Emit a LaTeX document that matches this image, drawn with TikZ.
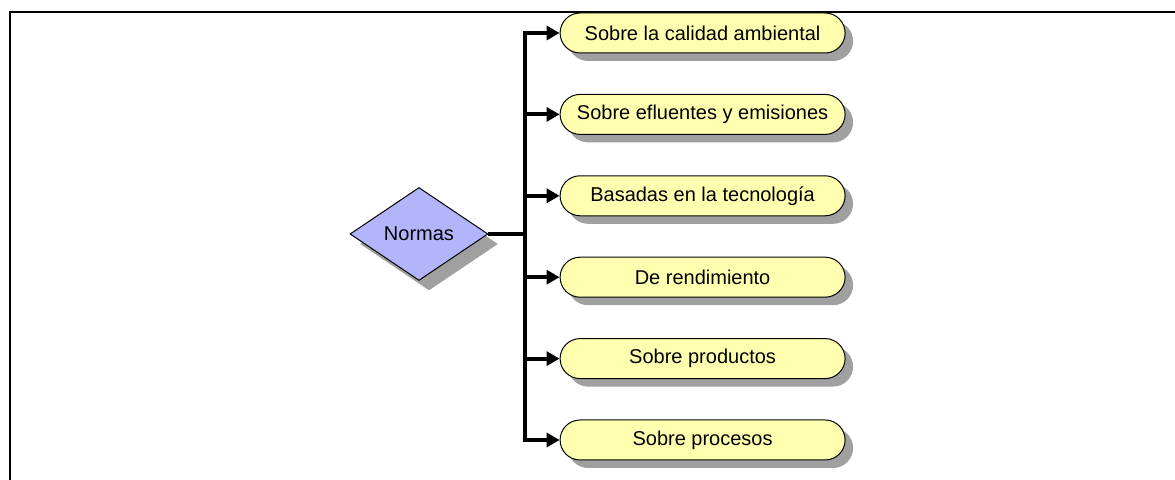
\documentclass[tikz,border=0pt]{standalone}
\usepackage{fontspec}
\setmainfont{Liberation Sans}
\usepackage{xcolor}
\usepackage{tikz}
\usetikzlibrary{arrows.meta, shapes, shadows, positioning}
\definecolor{normasblue}{HTML}{B4B4FA}
\definecolor{boxyellow}{HTML}{FFFFB0}
\definecolor{shadowgray}{HTML}{A0A0A0}
\tikzset{
    diamondnode/.style = {draw, diamond, fill=normasblue, inner sep = 0em, 
      minimum width=6.9em, minimum height=4.65em, node distance=0em, line width=0.05em, 
      drop shadow={shadow xshift=0.5em, shadow yshift=-0.5em, fill=shadowgray, opacity=1}},
    roundnode/.style = {draw, rectangle, rounded corners=1em, fill=boxyellow, inner sep = 0em, 
      minimum width=14.25em, minimum height=2em, node distance=0em, line width=0.05em, 
      drop shadow={shadow xshift=0.4em, shadow yshift=-0.4em, fill=shadowgray, opacity=1}},
    connect/.style = {black, line width=0.2em, -{Triangle[length=0.65em, width=0.7em]}},
    framelines/.style = {black, line width=0.1em}
}

\begin{document}
\begin{tikzpicture}
    \useasboundingbox (-209.5pt,117pt) rectangle (378pt,-123pt);
    \draw [framelines] (-204.5pt,-123pt) |- (378pt,111pt);

    \node [name=normas, diamondnode] {Normas};

    \node [name=calidad, roundnode, right of = normas, xshift=14.18em, yshift=10.05em] {Sobre la calidad ambiental};
    \node [name=efluentes, roundnode, right of = normas, xshift=14.18em, yshift=5.98em] {Sobre efluentes y emisiones};
    \node [name=tecnologia, roundnode, right of = normas, xshift=14.18em, yshift=1.91em] {Basadas en la tecnología};
    \node [name=rendimiento, roundnode, right of = normas, xshift=14.18em, yshift=-2.16em] {De rendimiento};
    \node [name=productos, roundnode, right of = normas, xshift=14.18em, yshift=-6.23em] {Sobre productos};
    \node [name=procesos, roundnode, right of = normas, xshift=14.18em, yshift=-10.3em] {Sobre procesos};

    \coordinate (trunk) at ([xshift=5.3em]normas.center);
    \foreach \b in {calidad, efluentes, tecnologia, rendimiento, productos, procesos}
        \draw [connect] (normas.east) -- (trunk) |- (\b.west);
\end{tikzpicture}
\end{document}
